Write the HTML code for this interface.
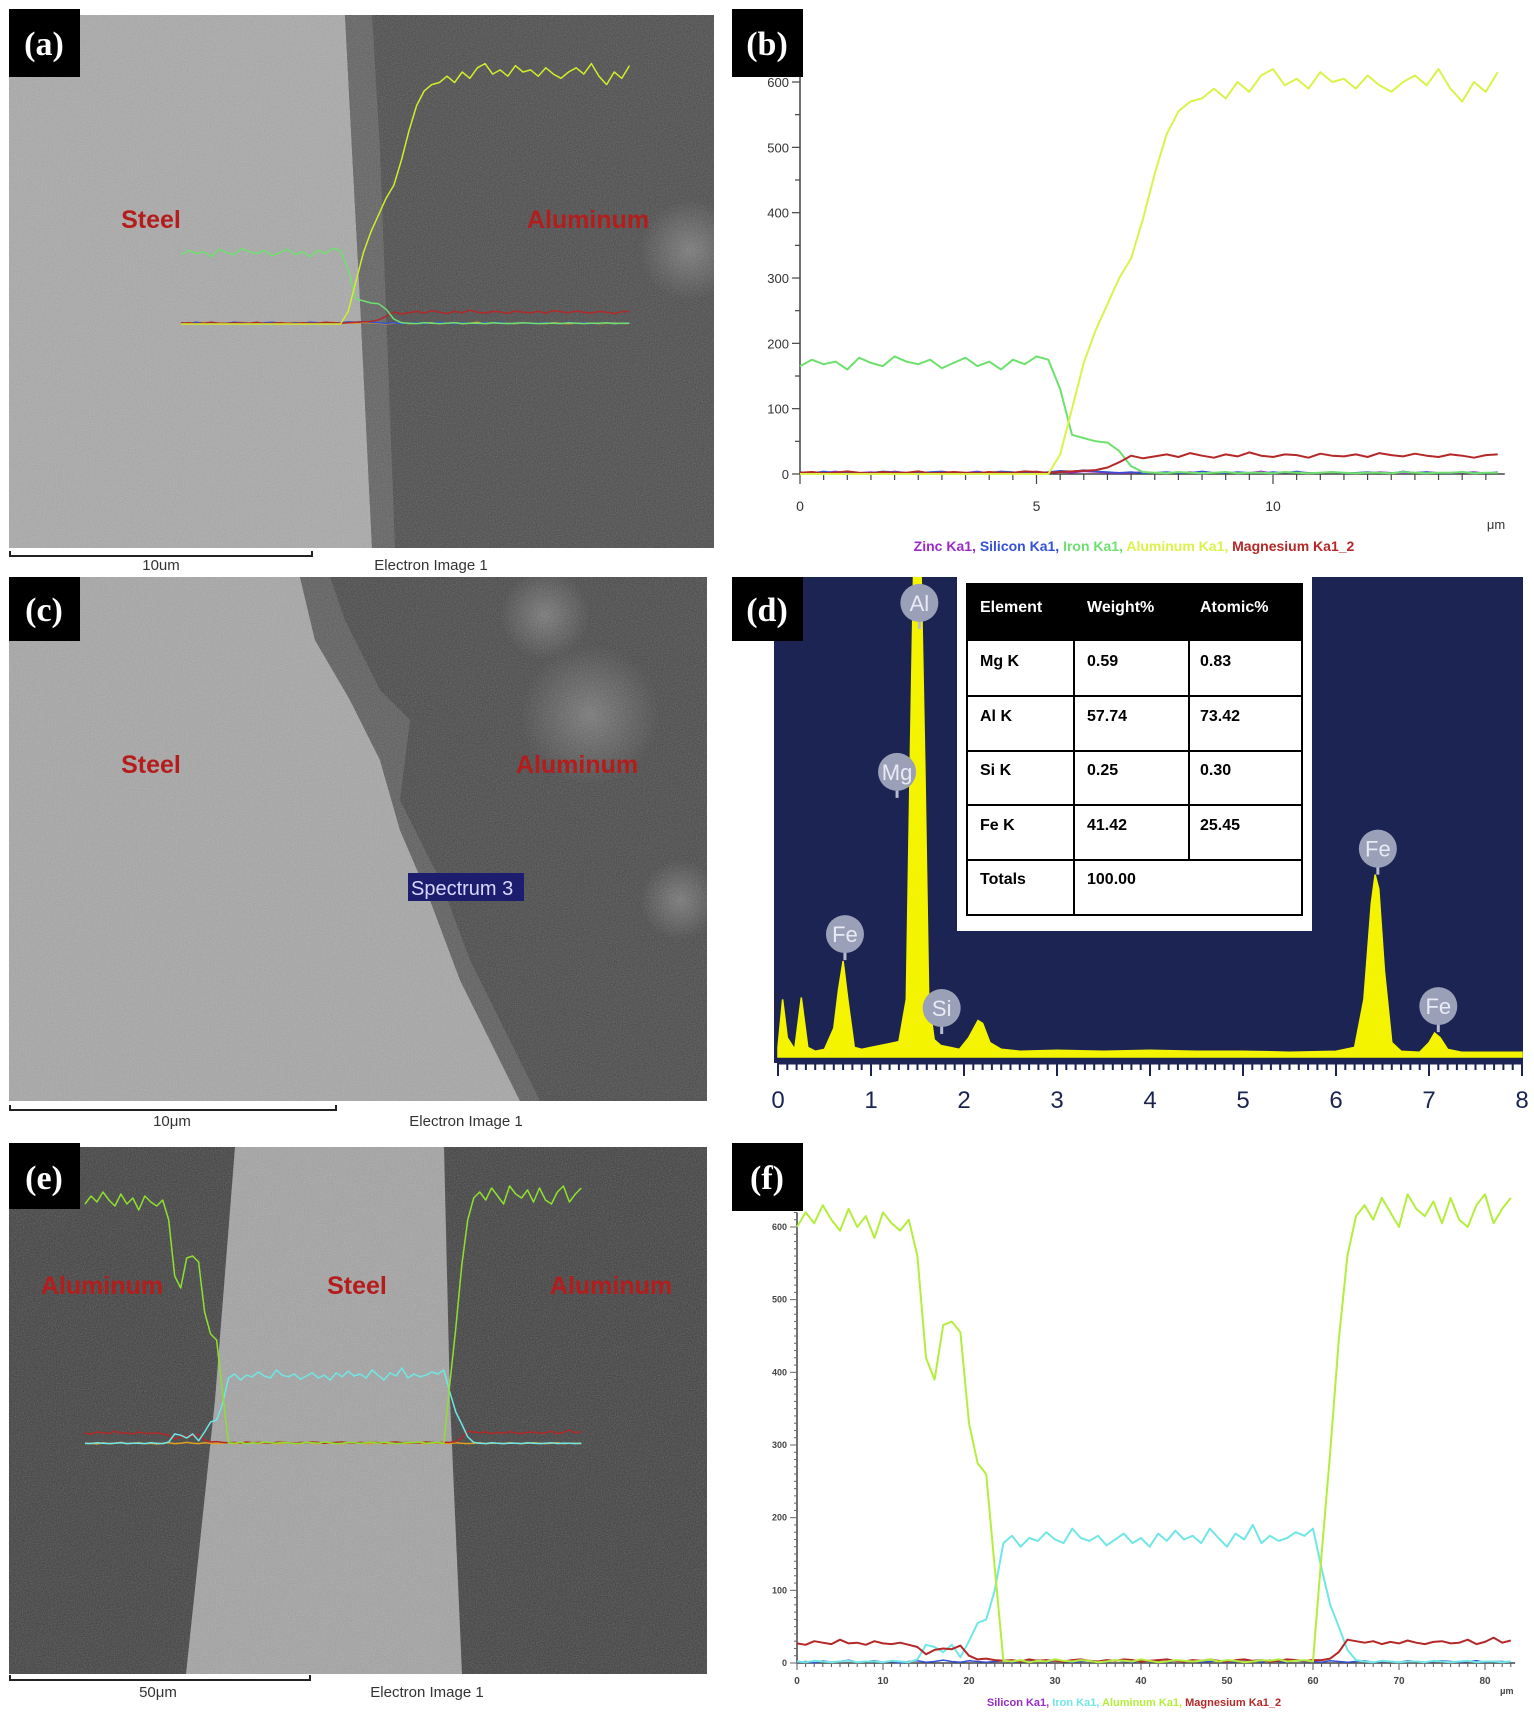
<!DOCTYPE html>
<html><head><meta charset="utf-8"><style>
html,body{margin:0;padding:0;background:#fff;}
svg{display:block;font-family:"Liberation Sans",sans-serif;}
</style></head><body>
<svg id="fig" width="1534" height="1722" viewBox="0 0 1534 1722" xmlns="http://www.w3.org/2000/svg">
<defs>
<filter id="noise" x="0" y="0" width="100%" height="100%"><feTurbulence type="fractalNoise" baseFrequency="0.85" numOctaves="2" seed="3"/><feColorMatrix type="saturate" values="0"/></filter>
<radialGradient id="blob"><stop offset="0" stop-color="#cfcfcf" stop-opacity="0.35"/><stop offset="1" stop-color="#cfcfcf" stop-opacity="0"/></radialGradient>
<clipPath id="clipA"><rect x="9" y="15" width="705" height="533"/></clipPath>
<clipPath id="clipC"><rect x="9" y="577" width="698" height="524"/></clipPath>
<clipPath id="clipE"><rect x="9" y="1147" width="698" height="527"/></clipPath>
<clipPath id="clipD"><rect x="774" y="577" width="749" height="486"/></clipPath>
</defs>

<!-- Panel (a) SEM -->
<g clip-path="url(#clipA)">
<rect x="9" y="15" width="705" height="533" fill="#4a4a4a"/>
<polygon points="9,15 345,15 352,150 360,300 372,548 9,548" fill="#a9a9a9"/>
<polygon points="345,15 372,15 380,150 395,548 372,548 360,300 352,150" fill="#606060"/>
<circle cx="690" cy="250" r="50" fill="url(#blob)"/>
<rect x="9" y="15" width="705" height="533" filter="url(#noise)" opacity="0.32"/>
</g>
<!-- Panel (c) SEM -->
<g clip-path="url(#clipC)">
<rect x="9" y="577" width="698" height="524" fill="#474747"/>
<polygon points="9,577 300,577 315,640 350,700 380,760 400,830 430,900 460,980 520,1101 9,1101" fill="#a6a6a6"/>
<polygon points="300,577 330,577 345,620 380,690 410,720 400,800 440,880 470,960 540,1101 520,1101 460,980 430,900 400,830 380,760 350,700 315,640" fill="#5c5c5c"/>
<circle cx="590" cy="715" r="70" fill="url(#blob)"/>
<circle cx="545" cy="615" r="45" fill="url(#blob)"/>
<circle cx="680" cy="900" r="40" fill="url(#blob)"/>
<rect x="9" y="577" width="698" height="524" filter="url(#noise)" opacity="0.32"/>
</g>
<!-- Panel (e) SEM -->
<g clip-path="url(#clipE)">
<rect x="9" y="1147" width="698" height="527" fill="#3e3e3e"/>
<polygon points="235,1147 444,1147 450,1400 462,1674 186,1674 215,1400" fill="#a3a3a3"/>
<rect x="9" y="1147" width="698" height="527" filter="url(#noise)" opacity="0.34"/>
</g>

<g id="overlays"></g>

<!-- Region labels -->
<g fill="#b51c1c" font-weight="bold" font-size="25" text-anchor="middle">
<text x="151" y="228">Steel</text>
<text x="588" y="228">Aluminum</text>
<text x="151" y="773">Steel</text>
<text x="577" y="773">Aluminum</text>
<text x="102" y="1294">Aluminum</text>
<text x="357" y="1294">Steel</text>
<text x="611" y="1294">Aluminum</text>
</g>
<g>
<rect x="408" y="873" width="116" height="28" fill="#1d1d70"/>
<text x="411" y="895" font-size="20" fill="#d8d8ff">Spectrum 3</text>
</g>

<!-- Scale bars -->
<g stroke="#222" stroke-width="2" fill="none">
<path d="M10,551 V556 H312 V551"/><path d="M10,1105 V1110 H336 V1105"/><path d="M10,1675 V1680 H310 V1675"/>
</g>
<g font-size="15" fill="#333" text-anchor="middle">
<text x="161" y="570">10um</text>
<text x="431" y="570">Electron Image 1</text>
<text x="172" y="1126">10μm</text>
<text x="466" y="1126">Electron Image 1</text>
<text x="158" y="1697">50μm</text>
<text x="427" y="1697">Electron Image 1</text>
</g>

<!-- Panel (d) -->
<g>
<rect x="774" y="577" width="749" height="486" fill="#1b2452"/>
<g id="specG" clip-path="url(#clipD)"></g>
<line x1="778" y1="1063" x2="1523" y2="1063" stroke="#1b2452" stroke-width="3"/>
<g id="specTicks"></g>
</g>
<g>
<rect x="957" y="577" width="355" height="354" fill="#fff"/>
<rect x="967" y="584" width="335" height="57" fill="#000"/>
<g stroke="#000" stroke-width="2" fill="none">
<rect x="967" y="584" width="335" height="331"/>
<line x1="967" y1="696" x2="1302" y2="696"/><line x1="967" y1="751" x2="1302" y2="751"/>
<line x1="967" y1="805" x2="1302" y2="805"/><line x1="967" y1="860" x2="1302" y2="860"/>
<line x1="1074" y1="641" x2="1074" y2="915"/><line x1="1189" y1="641" x2="1189" y2="860"/>
</g>
<g font-size="16" font-weight="bold" fill="#fff">
<text x="980" y="612">Element</text><text x="1087" y="612">Weight%</text><text x="1200" y="612">Atomic%</text>
</g>
<g font-size="16" font-weight="bold" fill="#000">
<text x="980" y="666">Mg K</text><text x="1087" y="666">0.59</text><text x="1200" y="666">0.83</text>
<text x="980" y="721">Al K</text><text x="1087" y="721">57.74</text><text x="1200" y="721">73.42</text>
<text x="980" y="775">Si K</text><text x="1087" y="775">0.25</text><text x="1200" y="775">0.30</text>
<text x="980" y="830">Fe K</text><text x="1087" y="830">41.42</text><text x="1200" y="830">25.45</text>
<text x="980" y="884">Totals</text><text x="1087" y="884">100.00</text>
</g>
</g>

<!-- Charts b and f -->
<g id="chartB"></g>
<g id="chartF"></g>

<!-- Panel labels -->
<g font-family="Liberation Serif,serif" font-weight="bold" font-size="34" fill="#fff" text-anchor="middle">
<rect x="9" y="9" width="71" height="68" fill="#000"/><text x="44" y="55">(a)</text>
<rect x="732" y="9" width="71" height="68" fill="#000"/><text x="767" y="55">(b)</text>
<rect x="9" y="577" width="71" height="64" fill="#000"/><text x="44" y="621">(c)</text>
<rect x="732" y="577" width="71" height="64" fill="#000"/><text x="767" y="621">(d)</text>
<rect x="9" y="1143" width="71" height="66" fill="#000"/><text x="44" y="1189">(e)</text>
<rect x="732" y="1143" width="71" height="68" fill="#000"/><text x="767" y="1189">(f)</text>
</g>
</svg>
<script>
// ---- Chart (b) data: x step 0.25 um ----
const bStep = 0.25;
const bAl = [0,0,0,0,0,0,0,0,0,0,0,0,0,0,0,0,0,0,0,0,0,0,30,100,170,220,260,300,330,390,460,520,555,570,575,590,575,600,585,610,620,595,605,590,615,600,605,590,610,595,585,600,610,595,620,590,570,600,585,615];
const bFe = [165,175,168,172,160,178,170,165,180,172,168,175,162,170,178,165,172,160,175,168,180,175,130,60,55,50,48,35,12,3,2,1,3,2,1,2,3,1,2,2,1,3,2,1,2,3,2,1,2,2,1,3,2,1,2,2,3,1,2,2];
const bMg = [2,3,1,2,4,2,1,3,2,2,4,1,2,3,2,1,3,2,2,4,3,2,3,4,5,6,10,18,28,24,27,30,26,32,28,25,30,27,33,28,26,30,29,25,31,28,27,30,26,32,29,27,31,28,26,30,28,25,29,30];
const bSi = [3,1,4,2,3,1,2,4,3,2,1,3,4,2,1,3,2,4,3,1,2,3,5,4,6,4,3,2,3,1,2,3,1,2,4,2,1,3,2,1,3,2,4,1,2,3,1,2,3,2,1,4,2,3,1,2,3,2,1,3];
const bZn = [1,3,2,4,1,2,3,1,4,2,3,2,1,3,2,4,1,3,2,2,4,1,3,2,4,3,2,1,2,3,1,2,2,3,1,2,3,1,2,4,1,2,3,2,1,3,2,2,1,3,2,1,2,3,2,1,2,3,1,2];
const bYTicks = [0,100,200,300,400,500,600];
const bXTicks = [0,5,10];
// ---- Chart (f) data: x step 1 um ----
const fStep = 1;
const fAl = [600,620,605,630,610,595,625,600,615,585,620,605,595,610,560,420,390,465,470,455,330,275,260,130,3,2,4,1,3,2,5,3,2,4,3,1,2,4,3,2,5,3,1,2,4,3,2,3,5,2,4,3,1,2,4,3,5,2,3,4,2,150,290,445,560,615,630,610,640,620,600,645,625,615,635,605,640,610,600,630,645,605,625,640];
const fFe = [2,1,3,2,1,2,3,1,2,2,1,3,2,1,5,25,22,15,25,8,30,55,60,100,165,175,160,172,168,180,170,165,185,172,168,175,162,170,178,165,172,160,178,168,182,170,175,165,185,172,160,178,170,190,165,175,168,172,180,175,185,130,80,50,18,4,2,1,3,2,1,2,2,1,3,2,1,2,3,1,2,2,1,2];
const fMg = [27,25,30,28,26,32,27,28,25,30,27,26,28,25,22,12,18,20,19,24,10,5,6,4,3,4,2,5,3,4,3,2,4,5,3,2,4,3,5,4,2,3,4,5,3,2,4,3,5,3,2,4,5,3,4,2,3,5,4,3,4,4,6,15,32,30,28,30,26,29,27,31,28,26,29,30,27,28,32,26,29,35,28,31];
const fSi = [1,2,0,3,1,2,4,1,2,3,1,2,0,2,3,1,2,4,2,1,3,2,1,2,3,1,2,2,4,1,3,2,1,2,3,2,1,4,2,1,3,2,2,1,3,2,4,1,2,3,1,2,2,3,1,4,2,1,3,2,2,1,3,2,1,2,3,1,2,2,1,3,2,1,2,3,2,1,2,3,1,2,2,1];
const fYTicks = [0,100,200,300,400,500,600];
const fXTicks = [0,10,20,30,40,50,60,70,80];
// ---- Spectrum (d) data ----
const specE = [0,0.05,0.1,0.18,0.25,0.32,0.4,0.5,0.6,0.65,0.7,0.75,0.82,0.9,1.0,1.1,1.2,1.3,1.38,1.42,1.46,1.5,1.54,1.58,1.62,1.68,1.75,1.85,1.95,2.05,2.15,2.2,2.28,2.4,2.6,3.0,3.5,4.0,4.5,5.0,5.5,6.0,6.2,6.3,6.38,6.42,6.46,6.52,6.6,6.7,6.9,7.0,7.06,7.12,7.2,7.35,7.6,8.0];
const specC = [10,60,20,8,62,10,6,8,30,70,100,60,10,8,10,12,14,16,60,300,520,520,500,300,60,18,12,10,8,20,38,35,15,8,6,7,6,7,6,6,5,6,10,60,160,190,175,90,15,6,5,15,25,20,8,5,5,5];
const specLabels = ["Al","Mg","Fe","Si","Fe","Fe"];
const specLabelE = [1.52,1.28,0.72,1.76,6.45,7.1];
const specLabelC = [473,297,128,51,217,53];
const specXTicks = [0,1,2,3,4,5,6,7,8];

const NS = "http://www.w3.org/2000/svg";
function mk(tag, attrs, parent){const e=document.createElementNS(NS,tag);for(const k in attrs)e.setAttribute(k,attrs[k]);parent.appendChild(e);return e;}
function axis(x0,px,y0,py){return {x:v=>x0+v*px, y:v=>y0-v*py};}
function series(g, ax, step, vals, color, name, w){
  const pts = vals.map((v,i)=>ax.x(i*step).toFixed(1)+","+ax.y(v).toFixed(1)).join(" ");
  const p = mk("polyline",{points:pts,fill:"none",stroke:color,"stroke-width":w||2,"stroke-linejoin":"round"},g);
  
  
  return p;
}
const COL = {al:"#dcf24a", fe:"#6ee06e", mg:"#b42828", si:"#3452d4", zn:"#9a2cc8", alF:"#b4ee3c", feF:"#70e6e6"};

// chart b
(function(){
  const g=document.getElementById("chartB");
  const ax=axis(800,47.3,474,0.6533);
  mk("line",{x1:800,y1:ax.y(610),x2:800,y2:474,stroke:"#444","stroke-width":1.5},g);
  mk("line",{x1:800,y1:474,x2:ax.x(14.9),y2:474,stroke:"#444","stroke-width":1.5},g);
  for(let v=0;v<=600;v+=50){mk("line",{x1:v%100?795:792,y1:ax.y(v),x2:800,y2:ax.y(v),stroke:"#444","stroke-width":1.2},g);}
  bYTicks.forEach(v=>{const t=mk("text",{x:789,y:ax.y(v)+5,"font-size":13,"text-anchor":"end",fill:"#333"},g);t.textContent=v;
    
    });
  for(let v=0;v<=14.5;v+=0.5){mk("line",{x1:ax.x(v),y1:474,x2:ax.x(v),y2:v%5?480:484,stroke:"#444","stroke-width":1.2},g);}
  bXTicks.forEach(v=>{const t=mk("text",{x:ax.x(v),y:511,"font-size":14,"text-anchor":"middle",fill:"#333"},g);t.textContent=v;
    
    });
  const u=mk("text",{x:1496,y:529,"font-size":13,fill:"#333","text-anchor":"middle"},g);u.textContent="μm";
  
  
  series(g,ax,bStep,bZn,COL.zn,"series-zinc-b",1.5);
  series(g,ax,bStep,bSi,COL.si,"series-silicon-b",1.5);
  series(g,ax,bStep,bFe,COL.fe,"series-iron-b");
  series(g,ax,bStep,bMg,COL.mg,"series-magnesium-b");
  series(g,ax,bStep,bAl,COL.al,"series-aluminum-b");
  const lg=mk("text",{x:1134,y:551,"font-size":14,"text-anchor":"middle","font-weight":"bold"},g);
  
  
  [["Zinc Ka1, ",COL.zn],["Silicon Ka1, ",COL.si],["Iron Ka1, ",COL.fe],["Aluminum Ka1, ",COL.al],["Magnesium Ka1_2",COL.mg]].forEach(a=>{const s=mk("tspan",{fill:a[1]},lg);s.textContent=a[0];});
})();

// chart f
(function(){
  const g=document.getElementById("chartF");
  const ax=axis(797,8.6,1663,0.7267);
  mk("line",{x1:797,y1:ax.y(620),x2:797,y2:1663,stroke:"#444","stroke-width":1.5},g);
  mk("line",{x1:797,y1:1663,x2:ax.x(83.5),y2:1663,stroke:"#444","stroke-width":1.5},g);
  for(let v=0;v<=620;v+=10){mk("line",{x1:v%100?794:790,y1:ax.y(v),x2:797,y2:ax.y(v),stroke:"#666","stroke-width":1},g);}
  fYTicks.forEach(v=>{const t=mk("text",{x:787,y:ax.y(v)+3,"font-size":9,"text-anchor":"end",fill:"#444","font-weight":"bold"},g);t.textContent=v;
    
    });
  for(let v=0;v<=83;v+=1){mk("line",{x1:ax.x(v),y1:1663,x2:ax.x(v),y2:v%10?1667:1670,stroke:"#555","stroke-width":1},g);}
  fXTicks.forEach(v=>{const t=mk("text",{x:ax.x(v),y:1684,"font-size":10,"text-anchor":"middle",fill:"#444","font-weight":"bold"},g);t.textContent=v;
    
    });
  const u=mk("text",{x:1500,y:1694,"font-size":9,fill:"#444","font-weight":"bold"},g);u.textContent="μm";
  
  
  series(g,ax,fStep,fSi,COL.si,"series-silicon-f",1.5);
  series(g,ax,fStep,fFe,COL.feF,"series-iron-f");
  series(g,ax,fStep,fMg,COL.mg,"series-magnesium-f");
  series(g,ax,fStep,fAl,COL.alF,"series-aluminum-f");
  const lg=mk("text",{x:1134,y:1706,"font-size":11,"text-anchor":"middle","font-weight":"bold"},g);
  
  
  [["Silicon Ka1, ",COL.zn],["Iron Ka1, ",COL.feF],["Aluminum Ka1, ",COL.alF],["Magnesium Ka1_2",COL.mg]].forEach(a=>{const s=mk("tspan",{fill:a[1]},lg);s.textContent=a[0];});
})();

// overlays on SEM images (same line-scan data)
(function(){
  const g=document.getElementById("overlays");
  const a=axis(181,30.4,324,0.42);
  series(g,a,bStep,bZn,"#e0a020","overlay-zinc-a",1.5);
  series(g,a,bStep,bSi,COL.si,"overlay-silicon-a",1.5);
  series(g,a,bStep,bMg,COL.mg,"overlay-magnesium-a",1.5);
  series(g,a,bStep,bFe,COL.fe,"overlay-iron-a",1.5);
  series(g,a,bStep,bAl,"#d4ec2c","overlay-aluminum-a",1.5);
  const e=axis(85,5.98,1444,0.4);
  series(g,e,fStep,fSi,"#e0a020","overlay-silicon-e",1.5);
  series(g,e,fStep,fMg,COL.mg,"overlay-magnesium-e",1.5);
  series(g,e,fStep,fFe,COL.feF,"overlay-iron-e",1.5);
  series(g,e,fStep,fAl,"#8ee030","overlay-aluminum-e",1.5);
})();

// spectrum d
(function(){
  const g=document.getElementById("specG");
  const ax=axis(778,93,1057,0.96);
  let d="M"+ax.x(specE[0])+","+ax.y(0);
  specE.forEach((e,i)=>{d+=" L"+ax.x(e).toFixed(1)+","+ax.y(specC[i]).toFixed(1);});
  d+=" L"+ax.x(specE[specE.length-1])+","+ax.y(0)+" Z";
  const p=mk("path",{d:d,fill:"#f4f400",stroke:"#f4f400","stroke-width":1.5},g);
  
  
  specLabels.forEach((s,i)=>{
    const cx=ax.x(specLabelE[i]), cy=ax.y(specLabelC[i]);
    mk("line",{x1:cx,y1:cy,x2:cx,y2:cy+26,stroke:"#b8bccc","stroke-width":3},g);
    const c=mk("circle",{cx:cx,cy:cy,r:19,fill:"#9aa0b8"},g);
    
    
    const t=mk("text",{x:cx,y:cy+8,"font-size":22,"text-anchor":"middle",fill:"#e8eaf4"},g);t.textContent=s;
    
    
  });
  const tg=document.getElementById("specTicks");
  for(let v=0;v<=80;v++){mk("line",{x1:ax.x(v/10),y1:1063,x2:ax.x(v/10),y2:v%10?1070:1076,stroke:"#1b2452","stroke-width":2},tg);}
  specXTicks.forEach(v=>{const t=mk("text",{x:ax.x(v),y:1108,"font-size":24,"text-anchor":"middle",fill:"#1b2452"},tg);t.textContent=v;
    
    });
})();
</script>
</body></html>
